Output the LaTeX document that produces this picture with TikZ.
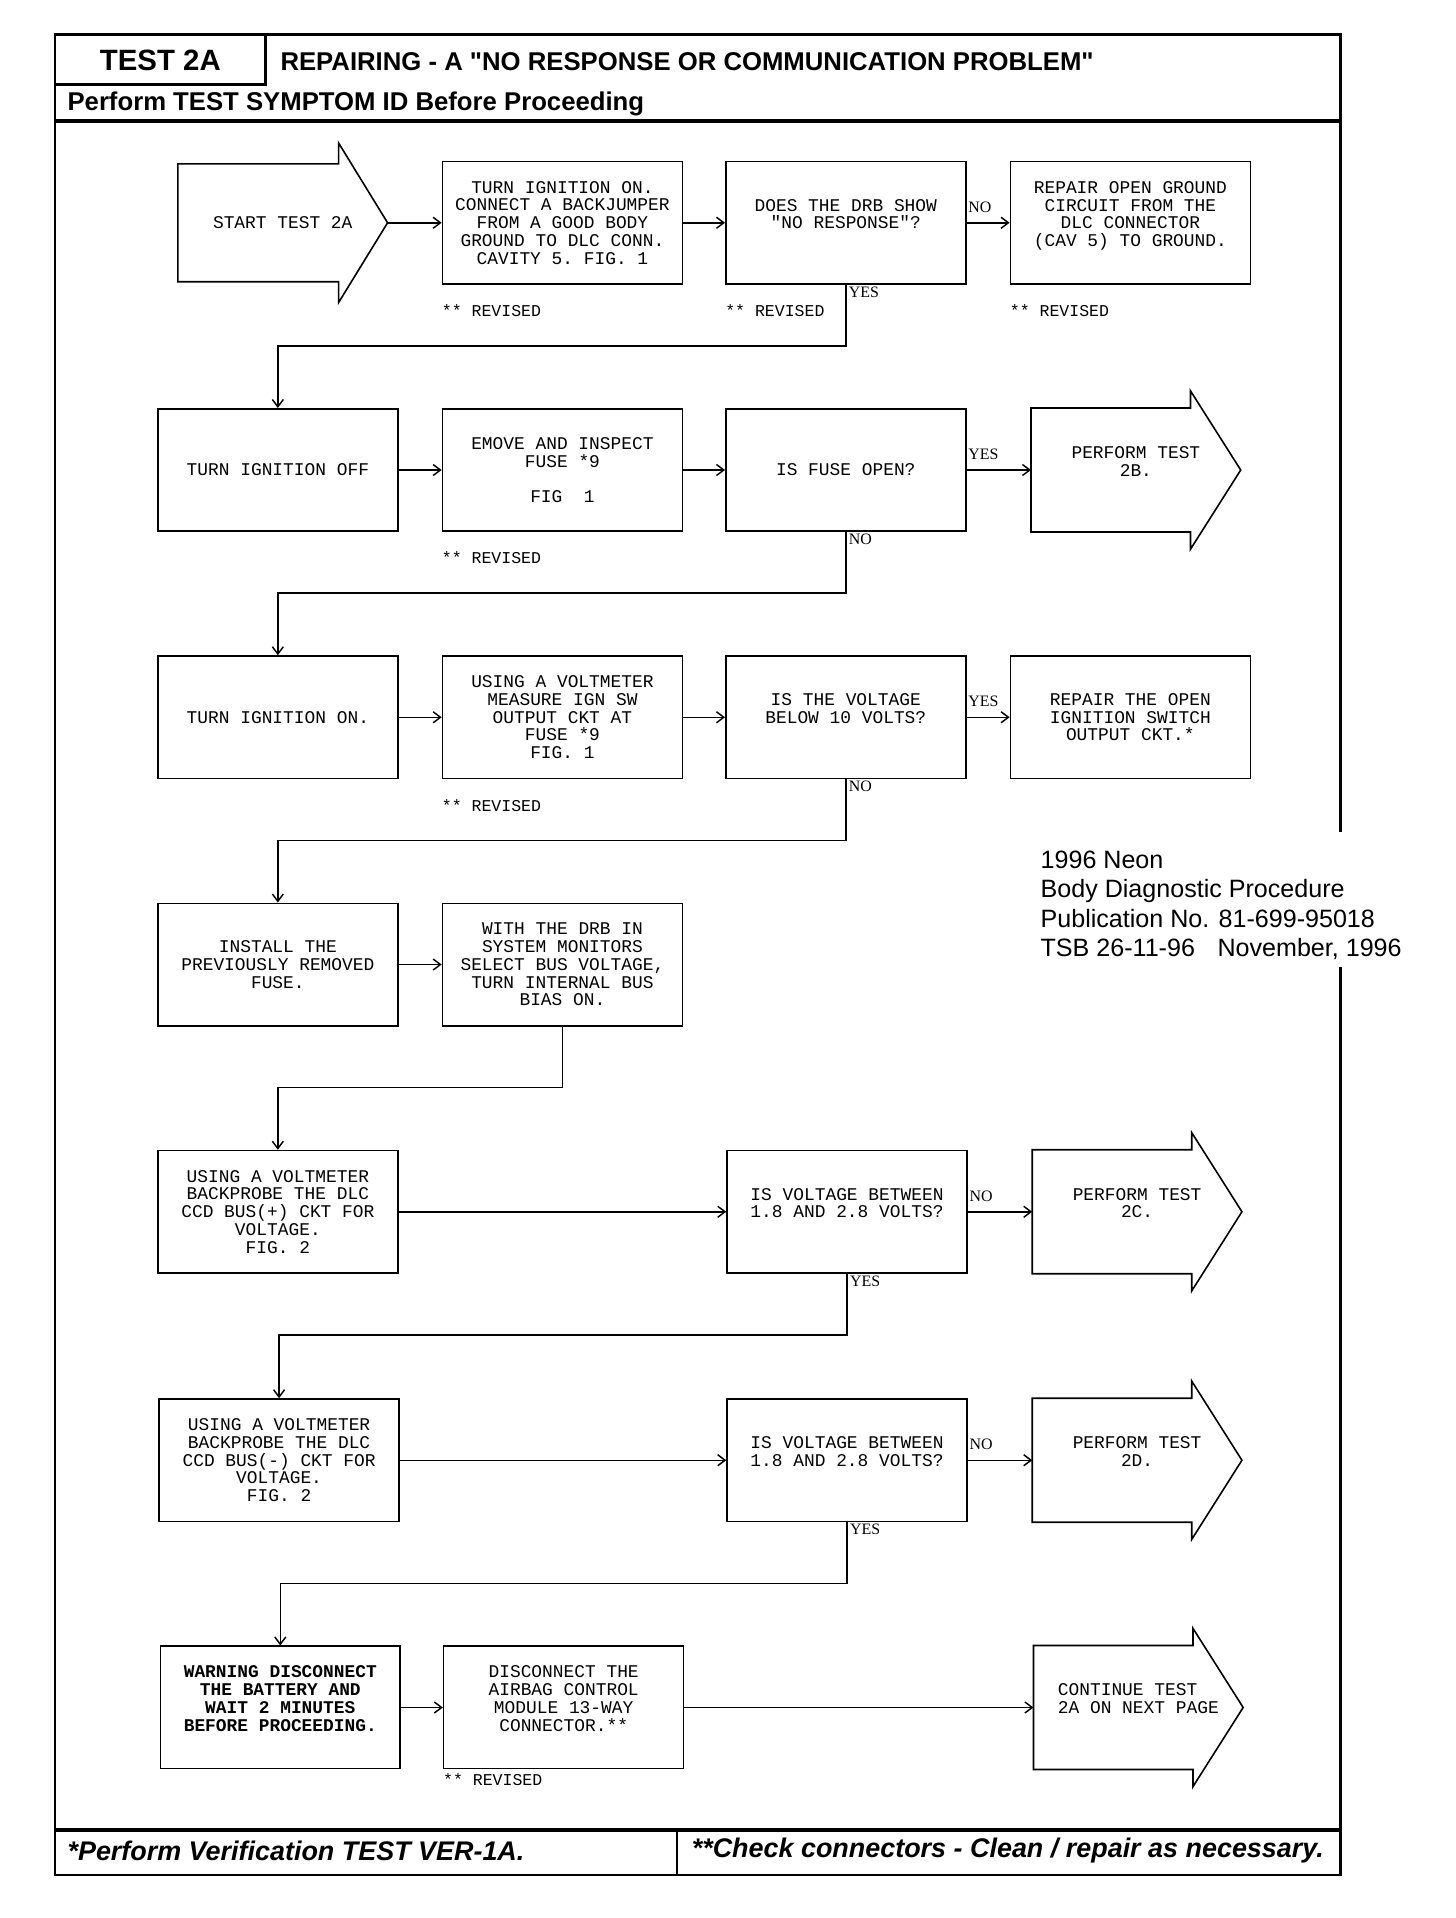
\documentclass[tikz,border=0pt]{standalone}
\usepackage{fontspec}
\setmainfont{Liberation Serif}
\setsansfont{Liberation Sans}
\setmonofont{Liberation Mono}
\usetikzlibrary{arrows.meta, positioning}

% box outline with an arrow head on its right side
\newcommand{\tipshape}[3]{%
  \draw[line width=1.3pt] (#1.north west) -- ([xshift=-#2]#1.north east) -- ++(0pt,#3)
    -- (#1.east) -- ([xshift=-#2,yshift=-#3]#1.south east) -- ([xshift=-#2]#1.south east)
    -- (#1.south west) -- cycle;}

\begin{document}
\begin{tikzpicture}[
    x=1pt, y=-1pt,
    stepbox/.style={draw, line width=1.3pt, minimum width=196pt, minimum height=100pt, inner sep=0pt, align=center, font=\ttfamily\fontsize{14.6}{14.5}\selectfont},
    warnbox/.style={stepbox, font=\ttfamily\bfseries\fontsize{14.6}{14.5}\selectfont},
    tipbox/.style={stepbox, draw=none, minimum width=170pt},
    conn/.style={-{Straight Barb[length=6pt,width=9pt]}, line width=1.2pt},
    frame/.style={line width=2pt},
    yesno/.style={font=\fontsize{13}{13}\selectfont, inner sep=0pt},
    revised/.style={font=\ttfamily\fontsize{13.5}{13.5}\selectfont, inner sep=0pt}
]
    \useasboundingbox (0,0) rectangle (1189.5,1567);

    % Frame and header
    \draw[frame] (1095,680) -- (1095,28) -- (45,28) -- (45,1532) -- (1095,1532) -- (1095,790);
    \draw[frame] (217,28) -- (217,69) -- (45,69);
    \draw[line width=2.8pt] (45,99) -- (1095,99);
    \draw[line width=2.8pt] (45,1495) -- (1095,1495);
    \draw[frame] (553,1495) -- (553,1532);
    \node[font=\sffamily\bfseries\fontsize{24}{24}\selectfont] (testid) at (131,49) {TEST 2A};
    \node[anchor=west, inner sep=0pt, font=\sffamily\bfseries\fontsize{21}{21}\selectfont] (title) at (229,50) {REPAIRING - A \textquotedbl NO RESPONSE OR COMMUNICATION PROBLEM\textquotedbl};
    \node[anchor=west, inner sep=0pt, font=\sffamily\bfseries\fontsize{21}{21}\selectfont] (symptom) at (55,85) {Perform TEST SYMPTOM ID Before Proceeding};
    \node[anchor=west, inner sep=0pt, font=\sffamily\bfseries\itshape\fontsize{22}{22}\selectfont] (verify) at (55,1512) {*Perform Verification TEST VER-1A.};
    \node[anchor=west, inner sep=0pt, font=\sffamily\bfseries\itshape\fontsize{22}{22}\selectfont] (check) at (565,1512) {**Check connectors - Clean / repair as necessary.};
    \node[anchor=north west, inner sep=0pt, align=left, font=\sffamily\fontsize{20.5}{24}\selectfont] (pubinfo) at (850,695) {1996 Neon\\Body Diagnostic Procedure\\Publication No. 81-699-95018\\TSB 26-11-96\hspace{0.9em}November, 1996};

    % Row 1
    \node[tipbox, minimum height=95pt] (start) at (231,182) {START TEST 2A};
    \tipshape{start}{40pt}{17pt}
    \node[stepbox] (jumper) at (459.5,182) {TURN IGNITION ON.\\CONNECT A BACKJUMPER\\FROM A GOOD BODY\\GROUND TO DLC CONN.\\CAVITY 5. FIG. 1};
    \node[stepbox] (drbshow) at (691,182) {DOES THE DRB SHOW\\"NO RESPONSE"?\\~};
    \node[stepbox] (repgnd) at (923.5,182) {REPAIR OPEN GROUND\\CIRCUIT FROM THE\\DLC CONNECTOR\\(CAV 5) TO GROUND.\\~};

    % Row 2
    \node[stepbox] (ignoff) at (227,384) {TURN IGNITION OFF};
    \node[stepbox] (fuse) at (459.5,384) {EMOVE AND INSPECT\\FUSE *9\\~\\FIG~~1};
    \node[stepbox] (fuseopen) at (691,384) {IS FUSE OPEN?};
    \node[tipbox] (test2b) at (928,384) {PERFORM TEST\\2B.\\~};
    \tipshape{test2b}{41pt}{14pt}

    % Row 3
    \node[stepbox] (ignon) at (227,586) {TURN IGNITION ON.};
    \node[stepbox] (measure) at (459.5,586) {USING A VOLTMETER\\MEASURE IGN SW\\OUTPUT CKT AT\\FUSE *9\\FIG. 1};
    \node[stepbox] (below10) at (691,586) {IS THE VOLTAGE\\BELOW 10 VOLTS?\\~};
    \node[stepbox] (repign) at (923.5,586) {REPAIR THE OPEN\\IGNITION SWITCH\\OUTPUT CKT.*};

    % Row 4
    \node[stepbox] (install) at (227,788) {INSTALL THE\\PREVIOUSLY REMOVED\\FUSE.};
    \node[stepbox] (monitors) at (459.5,788) {WITH THE DRB IN\\SYSTEM MONITORS\\SELECT BUS VOLTAGE,\\TURN INTERNAL BUS\\BIAS ON.};

    % Row 5
    \node[stepbox] (busplus) at (227,990) {USING A VOLTMETER\\BACKPROBE THE DLC\\CCD BUS(+) CKT FOR\\VOLTAGE.\\FIG. 2};
    \node[stepbox] (plusok) at (692,990) {IS VOLTAGE BETWEEN\\1.8 AND 2.8 VOLTS?\\~};
    \node[tipbox] (test2c) at (929,990) {PERFORM TEST\\2C.\\~};
    \tipshape{test2c}{41pt}{14pt}

    % Row 6
    \node[stepbox] (busminus) at (228,1193) {USING A VOLTMETER\\BACKPROBE THE DLC\\CCD BUS(-) CKT FOR\\VOLTAGE.\\FIG. 2};
    \node[stepbox] (minusok) at (692,1193) {IS VOLTAGE BETWEEN\\1.8 AND 2.8 VOLTS?\\~};
    \node[tipbox] (test2d) at (929,1193) {PERFORM TEST\\2D.\\~};
    \tipshape{test2d}{41pt}{14pt}

    % Row 7
    \node[warnbox] (warning) at (229,1395) {WARNING DISCONNECT\\THE BATTERY AND\\WAIT 2 MINUTES\\BEFORE PROCEEDING.\\~};
    \node[stepbox] (airbag) at (460.5,1395) {DISCONNECT THE\\AIRBAG CONTROL\\MODULE 13-WAY\\CONNECTOR.**\\~};
    \node[tipbox, align=left] (nextpage) at (930,1395) {CONTINUE TEST\\2A ON NEXT PAGE\\~};
    \tipshape{nextpage}{41pt}{14pt}

    % Revised notes
    \node[revised, below right=16pt and 0pt of jumper.south west] (rev1) {** REVISED};
    \node[revised, below right=16pt and 0pt of drbshow.south west] (rev2) {** REVISED};
    \node[revised, below right=16pt and 0pt of repgnd.south west] (rev3) {** REVISED};
    \node[revised, below right=16pt and 0pt of fuse.south west] (rev4) {** REVISED};
    \node[revised, below right=16pt and 0pt of measure.south west] (rev5) {** REVISED};
    \node[revised, below right=3pt and 0pt of airbag.south west] (rev6) {** REVISED};

    % Transitions
    \draw[conn] (start.east) -- (jumper);
    \draw[conn] (jumper) -- (drbshow);
    \draw[conn] (drbshow) -- node[yesno, above right=8pt and 1pt, pos=0] {NO} (repgnd);
    \draw[conn] (drbshow.south) -- node[yesno, below right=1pt and 2pt, pos=0] {YES} ++(0,50) -| (ignoff.north);

    \draw[conn] (ignoff) -- (fuse);
    \draw[conn] (fuse) -- (fuseopen);
    \draw[conn] (fuseopen) -- node[yesno, above right=8pt and 1pt, pos=0] {YES} (test2b.west);
    \draw[conn] (fuseopen.south) -- node[yesno, below right=1pt and 2pt, pos=0] {NO} ++(0,50) -| (ignon.north);

    \draw[conn] (ignon) -- (measure);
    \draw[conn] (measure) -- (below10);
    \draw[conn] (below10) -- node[yesno, above right=8pt and 1pt, pos=0] {YES} (repign);
    \draw[conn] (below10.south) -- node[yesno, below right=1pt and 2pt, pos=0] {NO} ++(0,50) -| (install.north);

    \draw[conn] (install) -- (monitors);
    \draw[conn] (monitors.south) -- ++(0,50) -| (busplus.north);

    \draw[conn] (busplus) -- (plusok);
    \draw[conn] (plusok) -- node[yesno, above right=8pt and 1pt, pos=0] {NO} (test2c.west);
    \draw[conn] (plusok.south) -- node[yesno, below right=1pt and 2pt, pos=0] {YES} ++(0,50) -| (busminus.north);

    \draw[conn] (busminus) -- (minusok);
    \draw[conn] (minusok) -- node[yesno, above right=8pt and 1pt, pos=0] {NO} (test2d.west);
    \draw[conn] (minusok.south) -- node[yesno, below right=1pt and 2pt, pos=0] {YES} ++(0,50) -| (warning.north);

    \draw[conn] (warning) -- (airbag);
    \draw[conn] (airbag) -- (nextpage.west);
\end{tikzpicture}
\end{document}
